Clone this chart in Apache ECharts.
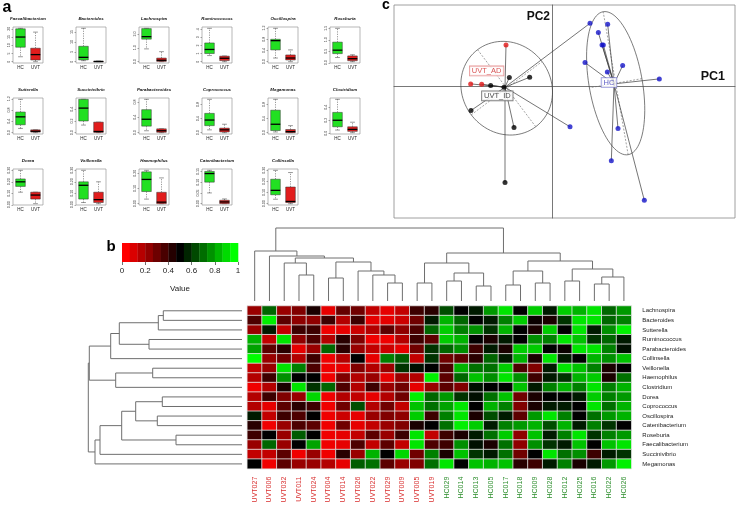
<!DOCTYPE html>
<html><head><meta charset="utf-8">
<script src="https://cdn.jsdelivr.net/npm/echarts@6/dist/echarts.min.js"></script>
<style>html,body{margin:0;padding:0;background:#fff}#c{width:738px;height:508px}</style>
</head><body><div id="c"></div>
<script>
// ---------- Panel a: box plots ----------
const boxGenera = ['Faecalibacterium','Bacteroides','Lachnospira','Ruminococcus','Oscillospira','Roseburia',
  'Sutterella','Succinivibrio','Parabacteroides','Coprococcus','Megamonas','Clostridium',
  'Dorea','Veillonella','Haemophilus','Catenibacterium','Collinsella'];
const boxGroups = ['HC','UVT'];
// [min, Q1, median, Q3, max]
const boxHC = [
  [3,8.8,15,20,20.3],[0.5,0.9,2.2,7.8,16.9],[0.92,1.62,1.8,2.38,2.4],[0.75,1.0,1.5,2.3,4.1],[0.13,0.42,0.75,0.8,1.19],[0.23,0.4,0.55,0.9,1.5],
  [0.15,0.28,0.56,0.73,1.18],[0.13,0.2,0.42,0.57,0.57],[0.05,0.17,0.35,0.6,0.87],[0.08,0.2,0.36,0.55,0.95],[0.02,0.06,0.24,0.64,0.95],[0.05,0.1,0.2,0.32,0.52],
  [0.11,0.16,0.2,0.225,0.3],[0.02,0.05,0.17,0.2,0.3],[0.03,0.08,0.16,0.21,0.22],[0.05,0.1,0.14,0.15,0.155],[0.04,0.08,0.12,0.22,0.3]];
const boxUVT = [
  [0,1,4.3,8.2,18],[0,0.05,0.1,0.2,0.3],[0,0.02,0.1,0.26,0.72],[0,0.13,0.42,0.68,0.7],[0,0.06,0.13,0.24,0.42],[0.05,0.09,0.18,0.3,0.35],
  [0,0.02,0.05,0.1,0.1],[0,0.005,0.02,0.18,0.18],[0,0.01,0.05,0.1,0.1],[0,0.02,0.08,0.13,0.24],[0,0,0.03,0.09,0.2],[0.01,0.03,0.06,0.1,0.17],
  [0.01,0.05,0.085,0.11,0.11],[0.01,0.02,0.045,0.11,0.2],[0,0,0.01,0.075,0.17],[0,0,0.008,0.016,0.022],[0,0.01,0.02,0.15,0.28]];
const boxTicks = [
  [0,5,10,15,20],[0,5,10,15],[0,1,2],[0,1,2,3,4],[0,0.4,0.8,1.2],[0,0.5,1,1.5],
  [0,0.4,0.8,1.2],[0,0.2,0.4],[0,0.4,0.8],[0,0.4,0.8],[0,0.4,0.8],[0,0.2,0.4],
  [0,0.1,0.2,0.3],[0,0.1,0.2,0.3],[0,0.1,0.2],[0,0.05,0.1,0.15],[0,0.1,0.2,0.3]];
const boxDecimals = [0,0,1,0,1,1, 1,1,1,1,1,1, 2,2,2,2,2];

// ---------- Panel c: PCA ----------
const pcaHC = [[1.66,1.85],[1.38,1.60],[1.49,1.23],[1.53,1.23],[0.98,0.70],[2.11,0.61],[1.65,0.42],[3.21,0.21],[1.97,-1.28],[1.77,-2.25],[2.76,-3.44]];
const pcaHCLinkedUVT = [[1.13,1.88],[0.53,-1.23]];
const pcaUVTAD = [[-1.39,1.23],[-2.45,0.06],[-2.12,0.05]];
const pcaUVTID = [[-1.29,0.25],[-0.68,0.26],[-1.85,0.01],[-1.45,-0.04],[-2.44,-0.74],[-1.15,-1.25],[-1.42,-2.90]];
const pcaCenterHC = [1.85,0.06];
const pcaCenterUVT = [-1.42,-0.04];
// [cx, cy, semi-major, semi-minor, angle deg]
const pcaEllipses = [[-1.37,-0.07,1.45,1.33,-53],[1.90,0.08,2.18,0.80,99.9]];
const pcaLabelNames = ['UVT_AD','UVT_ID','HC'];
const pcaLabelPos = [[-1.97,0.45],[-1.65,-0.30],[1.70,0.10]];

// ---------- Panel b: heatmap ----------
const hmRows = ['Lachnospira','Bacteroides','Sutterella','Ruminococcus','Parabacteroides','Collinsella','Veillonella','Haemophilus','Clostridium','Dorea','Coprococcus','Oscillospira','Catenibacterium','Roseburia','Faecalibacterium','Succinivibrio','Megamonas'];
const hmCols = ['UVT027','UVT006','UVT032','UVT011','UVT024','UVT004','UVT014','UVT026','UVT022','UVT029','UVT009','UVT005','UVT019','HC029','HC014','HC013','HC005','HC017','HC018','HC009','HC028','HC012','HC025','HC016','HC022','HC026'];
const hmValues = [
 [0.2,0.7,0.2,0.25,0.45,0.05,0.3,0.28,0.12,0.05,0.12,0.38,0.42,0.65,0.5,0.55,0.8,0.95,0.5,0.9,0.55,0.9,0.85,0.95,0.7,0.8],
 [0.35,0.97,0.32,0.22,0.22,0.38,0.15,0.38,0.05,0.05,0.1,0.28,0.55,0.85,0.7,0.5,0.55,0.75,0.9,0.48,0.45,0.6,0.95,0.95,0.7,0.75],
 [0.2,0.55,0.12,0.38,0.38,0.03,0.05,0.1,0.15,0.32,0.22,0.35,0.7,0.9,0.75,0.78,0.6,0.85,0.5,0.45,0.9,0.5,0.95,0.55,0.78,0.97],
 [0.85,0.12,0.95,0.22,0.35,0.15,0.42,0.25,0.03,0.03,0.15,0.38,0.32,0.9,0.85,0.5,0.45,0.55,0.5,0.78,0.75,0.95,0.88,0.6,0.7,0.55],
 [0.82,0.32,0.42,0.05,0.2,0.7,0.42,0.2,0.12,0.1,0.05,0.28,0.6,0.7,0.78,0.38,0.55,0.45,0.9,0.9,0.5,0.48,0.95,0.95,0.75,0.53],
 [1.0,0.2,0.28,0.15,0.38,0.03,0.15,0.5,0.05,0.75,0.68,0.12,0.6,0.28,0.32,0.42,0.7,0.55,0.85,0.45,0.95,0.55,0.5,0.85,0.78,0.88],
 [0.12,0.2,0.95,0.75,0.35,0.03,0.05,0.25,0.15,0.2,0.6,0.53,0.5,0.35,0.85,0.72,0.72,0.9,0.35,0.25,0.55,0.95,0.88,0.75,0.45,0.5],
 [0.15,0.38,0.78,0.5,0.5,0.03,0.25,0.15,0.2,0.05,0.2,0.15,0.97,0.32,0.7,0.88,0.78,0.95,0.78,0.38,0.55,0.6,0.85,0.9,0.45,0.72],
 [0.03,0.15,0.45,0.95,0.6,0.7,0.35,0.15,0.38,0.2,0.28,0.05,0.2,0.32,0.25,0.53,0.5,0.5,0.88,0.55,0.75,0.85,0.75,0.95,0.75,0.85],
 [0.15,0.38,0.25,0.2,0.92,0.03,0.15,0.12,0.05,0.15,0.28,0.97,0.7,0.8,0.6,0.53,0.72,0.88,0.28,0.45,0.5,0.5,0.55,0.9,0.75,0.8],
 [0.15,0.05,0.32,0.42,0.38,0.03,0.28,0.65,0.15,0.28,0.12,0.88,0.72,0.82,0.95,0.5,0.85,0.75,0.25,0.45,0.55,0.55,0.5,0.95,0.72,0.85],
 [0.55,0.12,0.38,0.35,0.5,0.03,0.1,0.05,0.2,0.25,0.22,0.9,0.38,0.75,0.95,0.45,0.65,0.55,0.32,0.8,0.95,0.75,0.5,0.72,0.8,0.85],
 [0.42,0.03,0.2,0.35,0.32,0.03,0.28,0.05,0.12,0.2,0.25,0.45,0.5,0.72,0.97,0.9,0.55,0.75,0.8,0.85,0.65,0.85,0.55,0.75,0.6,0.5],
 [0.38,0.5,0.2,0.68,0.5,0.03,0.05,0.12,0.32,0.2,0.38,0.95,0.12,0.38,0.45,0.55,0.72,0.9,0.22,0.88,0.55,0.75,0.95,0.6,0.75,0.8],
 [0.2,0.7,0.2,0.5,0.82,0.03,0.05,0.35,0.12,0.32,0.12,0.95,0.35,0.38,0.78,0.53,0.45,0.72,0.22,0.78,0.6,0.55,0.88,0.5,0.88,0.95],
 [0.12,0.12,0.32,0.03,0.2,0.03,0.42,0.2,0.85,0.5,0.92,0.28,0.75,0.45,0.88,0.6,0.55,0.72,0.28,0.5,0.95,0.72,0.78,0.38,0.55,0.6],
 [0.5,0.03,0.32,0.2,0.2,0.15,0.05,0.68,0.72,0.32,0.2,0.25,0.72,0.95,0.5,0.88,0.85,0.88,0.42,0.38,0.55,0.75,0.45,0.55,0.8,0.97]];
const keyTicks = [0,0.2,0.4,0.6,0.8,1];
const keySteps = 15;
// dendrogram merges: [childA, childB, height]; negative = leaf position (1-based), positive = earlier merge (1-based)
const colMerges = [
 [-4,-5,26],[-3,1,38],[-6,-7,23],[-10,-11,18],[-9,4,26],[-8,5,30],[3,6,39],[2,7,43],[-2,8,45],[-1,9,50],
 [-12,-13,18],[-14,-15,20],[-16,-17,15],[12,13,28],[11,14,38],
 [-18,-19,16],[-20,-21,18],[16,17,30],[-22,-23,20],[-24,-25,17],[20,-26,24],[19,21,32],[18,22,40],
 [15,23,48],[10,24,73]];
const rowMerges = [
 [-1,-2,78.7],[1,-3,83.7],[-4,-5,93],[2,3,122.7],[4,-6,131.3],[-7,-8,89.3],[6,-9,126.3],[5,7,152.7],
 [-10,-11,79.7],[-12,-13,84.7],[9,10,106.3],[-14,-15,66],[11,12,120.3],[13,-16,142],[14,-17,147],[8,15,153.7]];

// ---------- build ----------
const FONT = '"Liberation Sans", Arial, Helvetica, sans-serif';
const chart = echarts.init(document.getElementById('c'));
const grids = [], xAxes = [], yAxes = [], series = [], graphics = [];

function boxRender(params, api){
  const c = api.value(0);
  const v = [1,2,3,4,5].map(k => api.value(k));
  const cx = api.coord([c, v[2]])[0];
  const bw = api.size([1,0])[0]*0.64;
  const y = t => api.coord([c, t])[1];
  const fill = c === 0 ? '#22e022' : '#e21d1d';
  const st = {stroke:'#333', lineWidth:0.5};
  return {type:'group', children:[
    {type:'line', shape:{x1:cx,y1:y(v[3]),x2:cx,y2:y(v[4])}, style:Object.assign({lineDash:[1.2,1.2]}, st)},
    {type:'line', shape:{x1:cx,y1:y(v[1]),x2:cx,y2:y(v[0])}, style:Object.assign({lineDash:[1.2,1.2]}, st)},
    {type:'line', shape:{x1:cx-bw/4,y1:y(v[4]),x2:cx+bw/4,y2:y(v[4])}, style:st},
    {type:'line', shape:{x1:cx-bw/4,y1:y(v[0]),x2:cx+bw/4,y2:y(v[0])}, style:st},
    {type:'rect', shape:{x:cx-bw/2,y:y(v[3]),width:bw,height:Math.max(0.6,y(v[1])-y(v[3]))}, style:{fill:fill, stroke:'#333', lineWidth:0.5}},
    {type:'line', shape:{x1:cx-bw/2,y1:y(v[2]),x2:cx+bw/2,y2:y(v[2])}, style:{stroke:'#000', lineWidth:1.3}}
  ]};
}

const boxLeft = [13,76,139,202,268,330], boxTop = [27,98,169], boxW = 30, boxH = 36;
boxGenera.forEach((g, i) => {
  const r = Math.floor(i/6), c = i%6;
  const L = boxLeft[c], T = boxTop[r];
  grids.push({left:L, top:T, width:boxW, height:boxH, show:true, borderColor:'#888', borderWidth:0.6});
  const gi = grids.length-1;
  const h = boxHC[i], u = boxUVT[i];
  const lo = Math.min(h[0],u[0]), hi = Math.max(h[4],u[4]), pad = (hi-lo)*0.04;
  xAxes.push({gridIndex:gi, type:'category', data:boxGroups, axisLine:{show:false}, axisTick:{show:false},
    axisLabel:{fontSize:4.5, margin:2.5, color:'#222', fontFamily:FONT}});
  yAxes.push({gridIndex:gi, type:'value', min:lo-pad, max:hi+pad, axisLine:{show:false}, splitLine:{show:false},
    axisTick:{show:true, length:1.5, customValues:boxTicks[i], lineStyle:{color:'#555', width:0.5}},
    axisLabel:{customValues:boxTicks[i], rotate:90, fontSize:3.6, margin:2, color:'#333', fontFamily:FONT,
      formatter: v => (+v).toFixed(boxDecimals[i])}});
  series.push({type:'custom', xAxisIndex:gi, yAxisIndex:gi, renderItem:boxRender, silent:true,
    data:[[0].concat(h),[1].concat(u)]});
  graphics.push({type:'text', x:L+boxW/2, y:T-8, style:{text:g, font:'italic bold 4.4px '+FONT, align:'center', verticalAlign:'middle', fill:'#111'}});
});

// PCA
grids.push({left:394, top:5, width:341, height:213, show:true, borderColor:'#888', borderWidth:0.8});
const pg = grids.length-1;
xAxes.push({gridIndex:pg, type:'value', min:-4.75, max:5.48, axisLine:{show:true, onZero:true, lineStyle:{color:'#555', width:0.8}}, axisTick:{show:false}, axisLabel:{show:false}, splitLine:{show:false}});
yAxes.push({gridIndex:pg, type:'value', min:-3.97, max:2.43, axisLine:{show:true, onZero:true, lineStyle:{color:'#555', width:0.8}}, axisTick:{show:false}, axisLabel:{show:false}, splitLine:{show:false}});
function ellipseRender(params, api){
  const cx=api.value(0), cy=api.value(1), a=api.value(2), b=api.value(3), ang=api.value(4)*Math.PI/180;
  const ca=Math.cos(ang), sa=Math.sin(ang);
  const pts=[];
  for(let k=0;k<=90;k++){const t=k/90*2*Math.PI; const ex=a*Math.cos(t), ey=b*Math.sin(t); pts.push(api.coord([cx+ex*ca-ey*sa, cy+ex*sa+ey*ca]));}
  const p1=api.coord([cx-a*ca, cy-a*sa]), p2=api.coord([cx+a*ca, cy+a*sa]);
  const p3=api.coord([cx+b*sa, cy-b*ca]), p4=api.coord([cx-b*sa, cy+b*ca]);
  const ds={stroke:'#666', lineWidth:0.6, lineDash:[2,1.5]};
  return {type:'group', children:[
    {type:'polyline', shape:{points:pts}, style:{fill:'none', stroke:'#444', lineWidth:0.7}},
    {type:'line', shape:{x1:p1[0],y1:p1[1],x2:p2[0],y2:p2[1]}, style:ds},
    {type:'line', shape:{x1:p3[0],y1:p3[1],x2:p4[0],y2:p4[1]}, style:ds}
  ]};
}
series.push({type:'custom', xAxisIndex:pg, yAxisIndex:pg, renderItem:ellipseRender, data:pcaEllipses, silent:true, z:2});
const pcaSegs = [];
pcaHC.forEach(p => pcaSegs.push(pcaCenterHC.concat(p)));
pcaHCLinkedUVT.forEach(p => pcaSegs.push(pcaCenterUVT.concat(p)));
pcaUVTAD.forEach(p => pcaSegs.push(pcaCenterUVT.concat(p)));
pcaUVTID.forEach(p => pcaSegs.push(pcaCenterUVT.concat(p)));
series.push({type:'custom', xAxisIndex:pg, yAxisIndex:pg, silent:true, z:3, data:pcaSegs,
  renderItem:(params, api) => {
    const a=api.coord([api.value(0),api.value(1)]), b=api.coord([api.value(2),api.value(3)]);
    return {type:'line', shape:{x1:a[0],y1:a[1],x2:b[0],y2:b[1]}, style:{stroke:'#3a3a3a', lineWidth:0.7}};
  }});
const dotStyle = (col) => ({type:'scatter', xAxisIndex:pg, yAxisIndex:pg, symbolSize:5, itemStyle:{color:col}, silent:true, z:4});
series.push(Object.assign(dotStyle('#1414c8'), {data:pcaHC.concat(pcaHCLinkedUVT)}));
series.push(Object.assign(dotStyle('#e01515'), {data:pcaUVTAD}));
series.push(Object.assign(dotStyle('#000000'), {data:pcaUVTID}));
const labelCols = [['#d02828','#e07a7a'],['#222222','#555555'],['#3434b8','#7a7ad0']];
series.push({type:'scatter', xAxisIndex:pg, yAxisIndex:pg, symbolSize:0, silent:true, z:6,
  data: pcaLabelNames.map((n,i) => ({value:pcaLabelPos[i], label:{show:true, position:'inside', formatter:n,
    color:labelCols[i][0], borderColor:labelCols[i][1], borderWidth:0.8, backgroundColor:'#fff', padding:[1,2,0,2],
    fontSize:7.5, fontFamily:FONT}}))});

// Heatmap
const HM = {left:247.3, top:306, width:384, height:162.7};
grids.push(Object.assign({}, HM));
const hg = grids.length-1;
xAxes.push({gridIndex:hg, type:'category', data:hmCols, axisLine:{show:false}, axisTick:{show:false}, splitLine:{show:false},
  axisLabel:{rotate:90, fontSize:7, margin:8, interval:0, fontFamily:FONT, color:(v) => v.indexOf('UVT')===0 ? '#d93030' : '#2f8f2f'}});
yAxes.push({gridIndex:hg, type:'category', data:hmRows, inverse:true, position:'right', axisLine:{show:false}, axisTick:{show:false}, splitLine:{show:false},
  axisLabel:{fontSize:6, margin:11, interval:0, color:'#222', fontFamily:FONT}});
const hmData = [];
hmValues.forEach((row, r) => row.forEach((v, c) => hmData.push([c, r, v])));
const hmSeriesIndex = series.length;
series.push({type:'heatmap', xAxisIndex:hg, yAxisIndex:hg, data:hmData, progressive:0, silent:true,
  itemStyle:{borderColor:'#e6e6e6', borderWidth:0.8}, emphasis:{disabled:true}});

// Color key
function ramp(t){ return t < 0.5 ? 'rgb(' + Math.round(255*(1-2*t)) + ',0,0)' : 'rgb(0,' + Math.round(255*(2*t-1)) + ',0)'; }
grids.push({left:122, top:243, width:116, height:19});
const kg = grids.length-1;
xAxes.push({gridIndex:kg, type:'value', min:0, max:1, interval:0.2, axisLine:{show:false}, splitLine:{show:false},
  axisTick:{show:true, length:3, lineStyle:{color:'#333', width:0.7}},
  axisLabel:{fontSize:8, margin:5, color:'#222', fontFamily:FONT, formatter: v => (v===0||v===1) ? String(v) : v.toFixed(1)},
  name:'Value', nameLocation:'middle', nameGap:23, nameTextStyle:{fontSize:8, color:'#222', fontFamily:FONT}});
yAxes.push({gridIndex:kg, type:'value', min:0, max:1, show:false});
const keyData = []; for (let k=0;k<keySteps;k++) keyData.push([k/keySteps, (k+1)/keySteps, k/(keySteps-1)]);
series.push({type:'custom', xAxisIndex:kg, yAxisIndex:kg, silent:true, data:keyData,
  renderItem:(params, api) => {
    const a=api.coord([api.value(0),1]), b=api.coord([api.value(1),0]);
    return {type:'rect', shape:{x:a[0],y:a[1],width:b[0]-a[0]+0.3,height:b[1]-a[1]}, style:{fill:ramp(api.value(2))}};
  }});

// Dendrograms
function dendroSegments(merges){
  const pos=[], hgt=[], segs=[];
  const get = id => id < 0 ? [-id-0.5, 0] : [pos[id-1], hgt[id-1]];
  merges.forEach((m, i) => {
    const A=get(m[0]), B=get(m[1]);
    pos[i]=(A[0]+B[0])/2; hgt[i]=m[2];
    segs.push([A[0],A[1],B[0],B[1],m[2]]);
  });
  return segs;
}
function dendroRender(orient){
  return (params, api) => {
    const x1=api.value(0), h1=api.value(1), x2=api.value(2), h2=api.value(3), h=api.value(4);
    const P = orient==='col' ? (p,hh)=>api.coord([p,hh]) : (p,hh)=>api.coord([hh,p]);
    return {type:'polyline', shape:{points:[P(x1,h1),P(x1,h),P(x2,h),P(x2,h2)]}, style:{stroke:'#6e6e6e', lineWidth:1, fill:'none'}};
  };
}
const colRoot = colMerges[colMerges.length-1][2];
grids.push({left:HM.left, top:301-colRoot, width:HM.width, height:colRoot});
const cg = grids.length-1;
xAxes.push({gridIndex:cg, type:'value', min:0, max:hmCols.length, show:false});
yAxes.push({gridIndex:cg, type:'value', min:0, max:colRoot, show:false});
series.push({type:'custom', xAxisIndex:cg, yAxisIndex:cg, silent:true, data:dendroSegments(colMerges), renderItem:dendroRender('col')});
const rowRoot = rowMerges[rowMerges.length-1][2];
grids.push({left:242-rowRoot, top:HM.top, width:rowRoot, height:HM.height});
const rg = grids.length-1;
xAxes.push({gridIndex:rg, type:'value', min:0, max:rowRoot, inverse:true, show:false});
yAxes.push({gridIndex:rg, type:'value', min:0, max:hmRows.length, inverse:true, show:false});
series.push({type:'custom', xAxisIndex:rg, yAxisIndex:rg, silent:true, data:dendroSegments(rowMerges), renderItem:dendroRender('row')});

// Texts
graphics.push({type:'text', x:7, y:8, style:{text:'a', font:'bold 16px '+FONT, align:'center', verticalAlign:'middle', fill:'#000'}});
graphics.push({type:'text', x:111, y:247, style:{text:'b', font:'bold 15px '+FONT, align:'center', verticalAlign:'middle', fill:'#000'}});
graphics.push({type:'text', x:386, y:5, style:{text:'c', font:'bold 14px '+FONT, align:'center', verticalAlign:'middle', fill:'#000'}});
graphics.push({type:'text', x:550, y:17, style:{text:'PC2', font:'bold 12px '+FONT, align:'right', verticalAlign:'middle', fill:'#111'}});
graphics.push({type:'text', x:725, y:77, style:{text:'PC1', font:'bold 12.5px '+FONT, align:'right', verticalAlign:'middle', fill:'#111'}});

chart.setOption({
  animation:false,
  textStyle:{fontFamily:FONT},
  grid:grids, xAxis:xAxes, yAxis:yAxes, series:series,
  visualMap:[{type:'continuous', show:false, seriesIndex:hmSeriesIndex, dimension:2, min:0, max:1, inRange:{color:['#ff0000','#000000','#00ff00']}}],
  graphic:graphics
});
</script></body></html>
